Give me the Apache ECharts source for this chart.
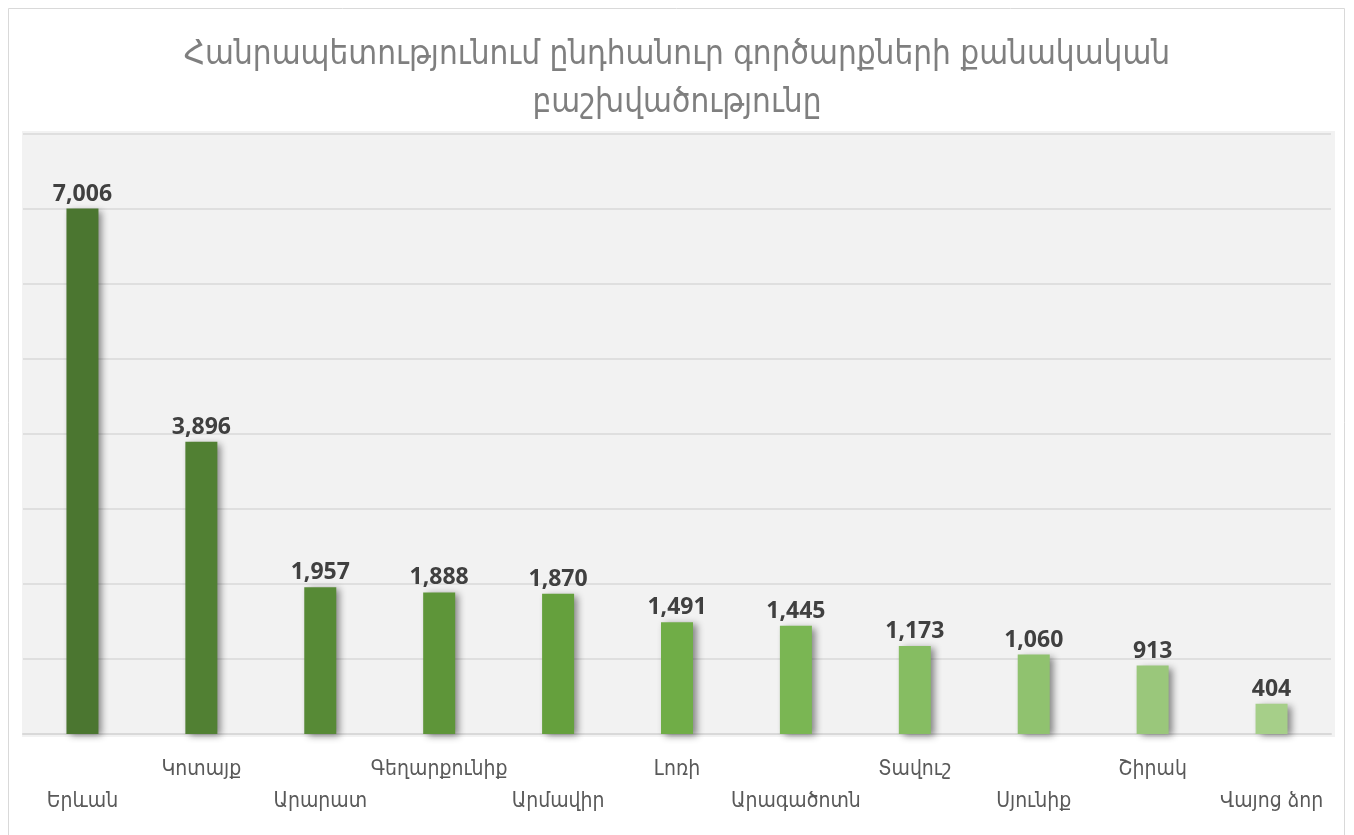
<!DOCTYPE html>
<html>
<head>
<meta charset="utf-8">
<script src="https://cdn.jsdelivr.net/npm/echarts@6/dist/echarts.min.js"></script>
<style>
html,body{margin:0;padding:0;background:#fff;}
#main{width:1354px;height:835px;}
</style>
</head>
<body>
<div id="main"></div>
<script>
var regions = ['Երևան','Կոտայք','Արարատ','Գեղարքունիք','Արմավիր','Լոռի','Արագածոտն','Տավուշ','Սյունիք','Շիրակ','Վայոց ձոր'];
var counts = [7006,3896,1957,1888,1870,1491,1445,1173,1060,913,404];
var barColors = ['#4b7630','#518033','#578a36','#5e9539','#65a03d','#70ad47','#7ab653','#86bd62','#90c26f','#9ac77b','#a6cf89'];

var myChart = echarts.init(document.getElementById('main'));

var data = [];
for (var i = 0; i < counts.length; i++) {
    data.push({value: counts[i], itemStyle: {color: barColors[i]}});
}

var option = {
    backgroundColor: '#fff',
    animation: false,
    title: {
        text: 'Հանրապետությունում ընդհանուր գործարքների քանակական\nբաշխվածությունը',
        left: 'center',
        top: 26,
        textStyle: {
            fontFamily: '"DejaVu Sans Condensed", "DejaVu Sans", sans-serif',
            fontWeight: 'normal',
            fontSize: 33,
            color: '#7f7f7f',
            lineHeight: 48
        }
    },
    graphic: [
        {type: 'rect', shape: {x: 8.5, y: 8.5, width: 1336, height: 840}, style: {fill: 'none', stroke: '#d9d9d9', lineWidth: 1}, z: -10},
        {type: 'rect', shape: {x: 22, y: 131, width: 1313, height: 606}, style: {fill: '#f2f2f2'}, z: -9}
    ],
    grid: {
        left: 23,
        width: 1308,
        top: 134,
        height: 600
    },
    xAxis: {
        type: 'category',
        data: regions,
        axisLine: {lineStyle: {color: '#d9d9d9', width: 2}},
        axisTick: {show: false},
        axisLabel: {
            interval: 0,
            margin: 20,
            fontFamily: '"DejaVu Sans Condensed", "DejaVu Sans", sans-serif',
            fontSize: 21,
            color: '#595959',
            lineHeight: 32,
            formatter: function (val, idx) {
                return idx % 2 === 0 ? '\n' + val : val;
            }
        }
    },
    yAxis: {
        type: 'value',
        min: 0,
        max: 8000,
        interval: 1000,
        axisLabel: {show: false},
        axisLine: {show: false},
        axisTick: {show: false},
        splitLine: {lineStyle: {color: '#d9d9d9', width: 1.5}}
    },
    series: [{
        type: 'bar',
        data: data,
        barWidth: 32,
        itemStyle: {
            shadowColor: 'rgba(0,0,0,0.45)',
            shadowBlur: 7,
            shadowOffsetX: 4,
            shadowOffsetY: 2
        },
        label: {
            show: true,
            position: 'top',
            distance: 3,
            fontFamily: '"Open Sans", "DejaVu Sans", sans-serif',
            fontWeight: 'bold',
            fontSize: 23,
            color: '#404040',
            formatter: function (p) {
                return p.value.toLocaleString('en-US');
            }
        }
    }]
};

myChart.setOption(option);
</script>
</body>
</html>
